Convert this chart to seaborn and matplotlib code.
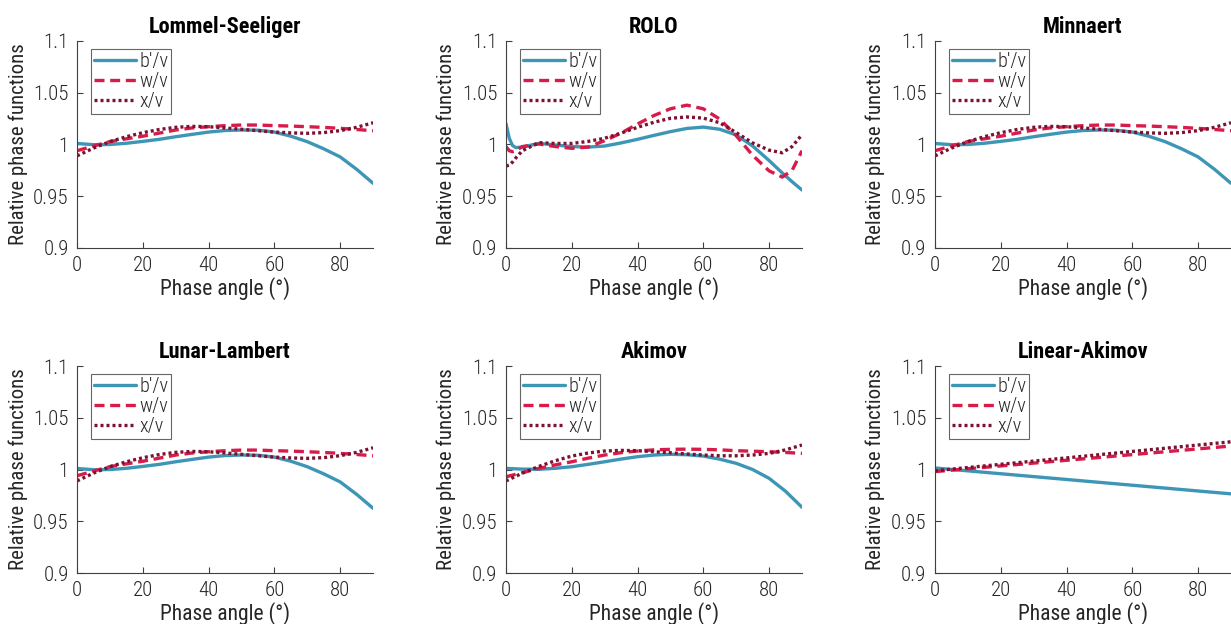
import numpy as np
import pandas as pd
import seaborn as sns
import matplotlib
matplotlib.use("Agg")
from matplotlib import pyplot as plt

# phase angles (deg)
ang = [0, 5, 10, 15, 20, 25, 30, 35, 40, 45, 50, 55, 60, 65, 70, 75, 80, 85, 90]
ang_rolo = [0, 1, 2, 3, 5, 10, 15, 20, 25, 30, 35, 40, 45, 50, 55, 60, 65, 70, 75, 80, 84, 87, 90]
ang_lin = [0, 45, 90]

# Lommel-Seeliger (Minnaert and Lunar-Lambert look the same)
ls_b = [1.001, 0.9998, 1.0, 1.0012, 1.003, 1.005, 1.0075, 1.0098, 1.012, 1.0135, 1.014,
        1.0138, 1.012, 1.008, 1.0027, 0.9958, 0.988, 0.976, 0.9625]
ls_w = [0.994, 0.9985, 1.0028, 1.0055, 1.008, 1.011, 1.014, 1.016, 1.0172, 1.0182, 1.0188,
        1.0188, 1.0182, 1.0178, 1.0172, 1.0165, 1.0156, 1.0145, 1.0133]
ls_x = [0.989, 0.9965, 1.0028, 1.0075, 1.0114, 1.0145, 1.0166, 1.0175, 1.0172, 1.016, 1.0147,
        1.0133, 1.012, 1.0112, 1.0108, 1.0115, 1.0134, 1.0166, 1.021]

# ROLO
rolo_b = [1.0204, 1.006, 0.999, 0.997, 0.9975, 1.0011, 0.9995, 0.998, 0.9975, 0.9985, 1.0015,
          1.005, 1.0088, 1.0124, 1.0155, 1.0168, 1.0147, 1.0092, 0.9985, 0.9845, 0.9725, 0.964, 0.956]
rolo_w = [0.998, 0.994, 0.993, 0.994, 0.998, 1.0005, 0.998, 0.9963, 0.9975, 1.0037, 1.011,
          1.0198, 1.028, 1.0345, 1.038, 1.0345, 1.0245, 1.0085, 0.9895, 0.9745, 0.9685, 0.975, 0.994]
rolo_x = [0.9792, 0.98, 0.983, 0.987, 0.994, 1.0018, 1.001, 1.001, 1.003, 1.006, 1.011,
          1.0166, 1.0215, 1.0253, 1.0266, 1.0255, 1.021, 1.0115, 1.0015, 0.9945, 0.992, 0.998, 1.0095]

# Akimov
ak_b = [1.0011, 1.0004, 1.0002, 1.0012, 1.0027, 1.005, 1.0075, 1.0101, 1.0124, 1.014, 1.0147,
        1.0143, 1.013, 1.010, 1.006, 1.0, 0.9915, 0.979, 0.9635]
ak_w = [0.993, 0.997, 1.0011, 1.0045, 1.0075, 1.011, 1.014, 1.0163, 1.0179, 1.019, 1.0195,
        1.0197, 1.0195, 1.019, 1.0182, 1.0177, 1.0172, 1.0165, 1.0156]
ak_x = [0.989, 0.9965, 1.003, 1.0085, 1.013, 1.016, 1.0179, 1.0185, 1.0182, 1.0172, 1.0162,
        1.015, 1.014, 1.0133, 1.0133, 1.014, 1.0156, 1.019, 1.0237]

# Linear-Akimov
lin_b = [1.0015, 0.989, 0.9765]
lin_w = [0.998, 1.0103, 1.0227]
lin_x = [0.9988, 1.0128, 1.0268]

panels = [
    ("Lommel-Seeliger", ang, ls_b, ls_w, ls_x),
    ("ROLO", ang_rolo, rolo_b, rolo_w, rolo_x),
    ("Minnaert", ang, ls_b, ls_w, ls_x),
    ("Lunar-Lambert", ang, ls_b, ls_w, ls_x),
    ("Akimov", ang, ak_b, ak_w, ak_x),
    ("Linear-Akimov", ang_lin, lin_b, lin_w, lin_x),
]

sns.set_style("white")
plt.rcParams["font.family"] = ["Roboto Condensed", "DejaVu Sans"]
plt.rcParams["font.stretch"] = "condensed"
plt.rcParams["font.weight"] = "light"

fig = plt.figure(figsize=(12.31, 6.24), dpi=100)
lefts = [0.0626, 0.411, 0.7595]
bottoms = [0.6026, 0.0817]
w, h = 0.2405, 0.3317

gray = "#404040"
txt = "#262626"
for i, (title, xs, b, wv, xv) in enumerate(panels):
    ax = fig.add_axes([lefts[i % 3], bottoms[i // 3], w, h])
    sns.lineplot(x=xs, y=b, ax=ax, color="#3d96b6", lw=2.4, label="b'/v")
    sns.lineplot(x=xs, y=wv, ax=ax, color="#d81b4a", lw=2.4, linestyle=(0, (3.0, 1.7)), label="w/v")
    sns.lineplot(x=xs, y=xv, ax=ax, color="#7b1230", lw=2.4, linestyle=(0, (0.9, 0.9)), label="x/v")
    ax.set_xlim(0, 90)
    ax.set_ylim(0.9, 1.1)
    ax.set_xticks([0, 20, 40, 60, 80])
    ax.set_yticks([0.9, 0.95, 1.0, 1.05, 1.1])
    ax.set_yticklabels(["0.9", "0.95", "1", "1.05", "1.1"])
    ax.tick_params(direction="in", length=4, width=0.8, colors=gray, labelsize=15,
                   labelcolor=txt, left=True, bottom=True, pad=6)
    for s in ["top", "right"]:
        ax.spines[s].set_visible(False)
    for s in ["left", "bottom"]:
        ax.spines[s].set_color(gray)
        ax.spines[s].set_linewidth(0.8)
    ax.set_xlabel("Phase angle (°)", fontsize=15.5, color=txt, labelpad=1)
    ax.set_ylabel("Relative phase functions", fontsize=15, color=txt, labelpad=4)
    ax.set_title(title, fontsize=16, fontweight="bold", pad=6, color="black")
    leg = ax.legend(loc="upper left", fontsize=14.5, handlelength=2.1, handletextpad=0.15,
                    borderaxespad=0.4, borderpad=0.15, labelspacing=0.05,
                    frameon=True, fancybox=False, bbox_to_anchor=(0.02, 1.0))
    leg.get_frame().set_edgecolor(gray)
    leg.get_frame().set_linewidth(0.8)
    for t in leg.get_texts():
        t.set_color(txt)

fig.savefig("out.png", dpi=100)
